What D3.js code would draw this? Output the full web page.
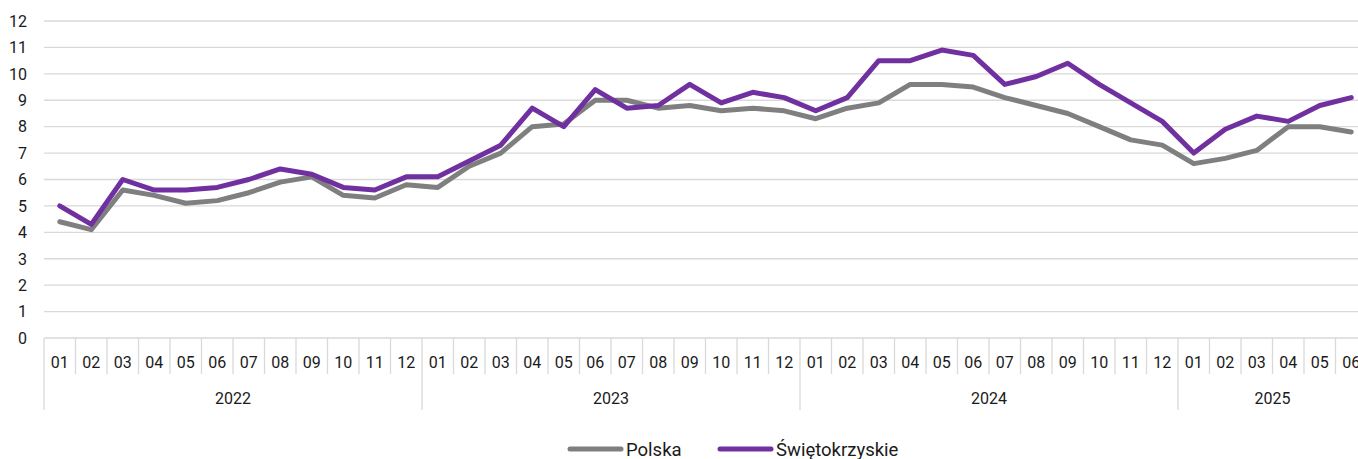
<!DOCTYPE html>
<html>
<head>
<meta charset="utf-8">
<script src="https://cdn.jsdelivr.net/npm/d3@7"></script>
<style>
  html, body { margin: 0; padding: 0; background: #fff; }
  svg text { font-family: "Roboto", "Noto Sans", sans-serif; fill: #1a1a1a; }
</style>
</head>
<body>
<svg id="chart" width="1358" height="459"></svg>
<script>
const years = ["2022", "2023", "2024", "2025"];
const months = ["01","02","03","04","05","06","07","08","09","10","11","12"];
const monthsPerYear = [12, 12, 12, 6];
const yTicks = [0,1,2,3,4,5,6,7,8,9,10,11,12];
const seriesNames = ["Polska", "Świętokrzyskie"];
const polska = [
  4.4, 4.1, 5.6, 5.4, 5.1, 5.2, 5.5, 5.9, 6.1, 5.4, 5.3, 5.8,
  5.7, 6.5, 7.0, 8.0, 8.1, 9.0, 9.0, 8.7, 8.8, 8.6, 8.7, 8.6,
  8.3, 8.7, 8.9, 9.6, 9.6, 9.5, 9.1, 8.8, 8.5, 8.0, 7.5, 7.3,
  6.6, 6.8, 7.1, 8.0, 8.0, 7.8
];
const swietokrzyskie = [
  5.0, 4.3, 6.0, 5.6, 5.6, 5.7, 6.0, 6.4, 6.2, 5.7, 5.6, 6.1,
  6.1, 6.7, 7.3, 8.7, 8.0, 9.4, 8.7, 8.8, 9.6, 8.9, 9.3, 9.1,
  8.6, 9.1, 10.5, 10.5, 10.9, 10.7, 9.6, 9.9, 10.4, 9.6, 8.9, 8.2,
  7.0, 7.9, 8.4, 8.2, 8.8, 9.1
];
const colors = ["#7f7f7f", "#7030a0"];

(function () {
  const cats = [];
  years.forEach((yr, yi) => {
    for (let m = 0; m < monthsPerYear[yi]; m++) cats.push({ year: yr, month: months[m], key: yr + "-" + months[m] });
  });

  const svg = d3.select("#chart");
  const W = 1358;
  const mLeft = 44, mTop = 21, mBottom = 338;
  const bandW = 31.5;
  const x = d3.scaleBand().domain(cats.map(d => d.key)).range([mLeft, mLeft + bandW * cats.length]).padding(0);
  const y = d3.scaleLinear().domain([0, 12]).range([mBottom, mTop]);

  svg.append("g").selectAll("line").data(yTicks).join("line")
    .attr("x1", mLeft).attr("x2", W)
    .attr("y1", d => y(d)).attr("y2", d => y(d))
    .attr("stroke", "#d9d9d9").attr("stroke-width", 1.3);

  svg.append("g").selectAll("text").data(yTicks).join("text")
    .attr("x", 27).attr("y", d => y(d)).attr("dy", "0.36em")
    .attr("text-anchor", "end").attr("font-size", 16)
    .text(d => d);

  const g = svg.append("g");
  g.selectAll("line.m").data(cats).join("line").attr("class", "m")
    .attr("x1", d => x(d.key)).attr("x2", d => x(d.key))
    .attr("y1", mBottom).attr("y2", d => d.month === "01" ? 410 : 374)
    .attr("stroke", "#d9d9d9").attr("stroke-width", 1.3);
  g.selectAll("text.m").data(cats).join("text").attr("class", "m")
    .attr("x", d => x(d.key) + x.bandwidth() / 2).attr("y", 362).attr("dy", "0.36em")
    .attr("text-anchor", "middle").attr("font-size", 16)
    .text(d => d.month);

  const yearGroups = years.map(yr => {
    const ks = cats.filter(c => c.year === yr).map(c => c.key);
    return { year: yr, x0: x(ks[0]), x1: x(ks[ks.length - 1]) + x.bandwidth() };
  });
  g.selectAll("text.y").data(yearGroups).join("text").attr("class", "y")
    .attr("x", d => (d.x0 + d.x1) / 2).attr("y", 398).attr("dy", "0.36em")
    .attr("text-anchor", "middle").attr("font-size", 16)
    .text(d => d.year);

  const series = [polska, swietokrzyskie];
  const line = d3.line().x((d, i) => x(cats[i].key) + x.bandwidth() / 2).y(d => y(d));
  svg.append("g").selectAll("path").data(series).join("path")
    .attr("d", d => line(d))
    .attr("fill", "none")
    .attr("stroke", (d, i) => colors[i])
    .attr("stroke-width", 5)
    .attr("stroke-linejoin", "round")
    .attr("stroke-linecap", "round");

  const legX = [568, 718];
  const leg = svg.append("g").selectAll("g").data(seriesNames).join("g")
    .attr("transform", (d, i) => `translate(${legX[i]},449)`);
  leg.append("line").attr("x1", 2).attr("x2", 53).attr("y1", 0).attr("y2", 0)
    .attr("stroke", (d, i) => colors[i]).attr("stroke-width", 5).attr("stroke-linecap", "round");
  leg.append("text").attr("x", 58).attr("y", 0).attr("dy", "0.36em").attr("font-size", 18.5)
    .text(d => d);
})();
</script>
</body>
</html>
